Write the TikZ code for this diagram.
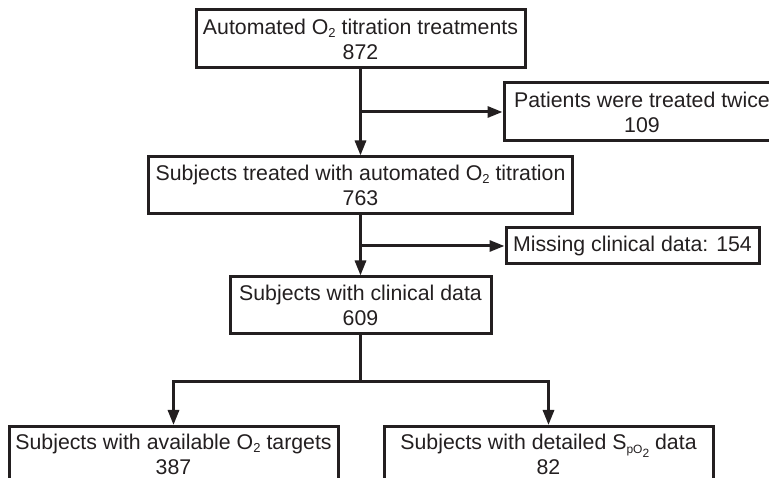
\documentclass[tikz,border=0pt]{standalone}
\usepackage{fontspec}
\setmainfont{Liberation Sans}
\usetikzlibrary{arrows.meta}
\definecolor{ink}{RGB}{35,31,32}
\newcommand{\subtwo}[1]{\raisebox{-0.15em}{\fontsize{13}{13}\selectfont #1}}
\begin{document}
\begin{tikzpicture}[x=1pt,y=-1pt,
  box/.style={draw=ink,line width=3pt,inner sep=0pt,align=center,text=ink,
    font=\fontsize{21.3}{25}\selectfont},
  conn/.style={draw=ink,line width=3pt},
  arr/.style={conn,-{Triangle[length=15pt,width=11pt]}}]
\useasboundingbox (0,0) rectangle (769,478);
\node[box,minimum width=329pt,minimum height=58pt] (top) at (360.5,39)
  {Automated O\subtwo{2} titration treatments\\872};
\node[box,minimum width=276pt,minimum height=58pt] (twice) at (642,112)
  {Patients were treated twice\\109};
\node[box,minimum width=424pt,minimum height=57pt] (s763) at (360.5,185.5)
  {Subjects treated with automated O\subtwo{2} titration\\763};
\node[box,minimum width=253pt,minimum height=36pt] (miss) at (632.5,246)
  {Missing clinical data: 154};
\node[box,minimum width=261pt,minimum height=57pt] (s609) at (360.5,305.5)
  {Subjects with clinical data\\609};
\node[box,minimum width=329pt,minimum height=56pt,anchor=north] (tgt) at (173.5,425)
  {Subjects with available O\subtwo{2} targets\\387};
\node[box,minimum width=329pt,minimum height=56pt,anchor=north] (spo) at (548.5,425)
  {Subjects with detailed S\raisebox{-0.2em}{\fontsize{12}{12}\selectfont pO\raisebox{-0.3em}{\fontsize{12}{12}\selectfont 2}} data\\82};
\coordinate (b1) at (top.south |- twice.west);
\coordinate (b2) at (s763.south |- miss.west);
\coordinate (b3) at (360.5,382);
\draw[arr] (top.south) -- (s763.north);
\draw[arr] (b1) -- (twice.west);
\draw[arr] (s763.south) -- (s609.north);
\draw[arr] (b2) -- (miss.west);
\draw[conn] (s609.south) -- (b3);
\draw[arr] (b3) -| (tgt.north);
\draw[arr] (b3) -| (spo.north);
\end{tikzpicture}
\end{document}
